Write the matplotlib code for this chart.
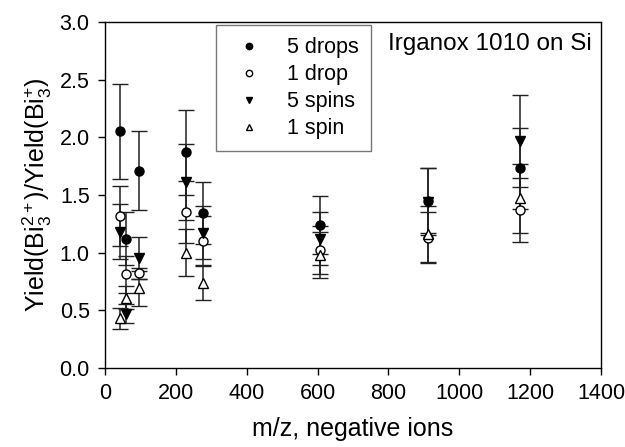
import matplotlib
matplotlib.use("Agg")
import matplotlib.pyplot as plt

plt.rcParams["font.family"] = ["Liberation Sans", "DejaVu Sans"]
plt.rcParams["font.size"] = 15.5
plt.rcParams["mathtext.fontset"] = "custom"
plt.rcParams["mathtext.rm"] = "Liberation Sans"
plt.rcParams["mathtext.it"] = "Liberation Sans:italic"
plt.rcParams["mathtext.default"] = "rm"

# m/z of the negative ions and Bi3++/Bi3+ yield ratios
MZ = [42, 58, 97, 230, 277, 606, 911, 1170]

DROPS5 = [2.05, 1.12, 1.71, 1.87, 1.34, 1.24, 1.45, 1.73]
DROPS5_ERR = [0.41, 0.23, 0.34, 0.37, 0.27, 0.25, 0.28, 0.35]

DROP1 = [1.32, 0.81, 0.82, 1.35, 1.10, 1.02, 1.13, 1.37]
DROP1_ERR = [0.26, 0.16, 0.05, 0.27, 0.22, 0.21, 0.22, 0.28]

SPINS5 = [1.18, 0.47, 0.955, 1.61, 1.17, 1.12, 1.44, 1.97]
SPINS5_ERR = [0.24, 0.08, 0.18, 0.33, 0.23, 0.23, 0.29, 0.40]

SPIN1 = [0.43, 0.61, 0.69, 1.00, 0.74, 0.98, 1.16, 1.47]
SPIN1_ERR = [0.09, 0.10, 0.15, 0.20, 0.15, 0.20, 0.24, 0.30]

SERIES = [
    ("5 drops", DROPS5, DROPS5_ERR, dict(marker="o", mfc="black")),
    ("1 drop", DROP1, DROP1_ERR, dict(marker="o", mfc="white")),
    ("5 spins", SPINS5, SPINS5_ERR, dict(marker="v", mfc="black")),
    ("1 spin", SPIN1, SPIN1_ERR, dict(marker="^", mfc="white")),
]

fig = plt.figure(figsize=(6.25, 4.47), dpi=100)
ax = fig.add_axes([0.168, 0.177, 0.7936, 0.774])

for label, vals, errs, style in SERIES:
    ax.errorbar(MZ, vals, yerr=errs, linestyle="none", color="black",
                mec="black", markersize=6.5, mew=1.0,
                ecolor="#222222", elinewidth=1.1, capsize=5.5, capthick=1.1,
                label=label, **style)

ax.set_xlim(0, 1400)
ax.set_ylim(0, 3.0)
ax.set_xticks(range(0, 1401, 200))
ax.set_yticks([0.0, 0.5, 1.0, 1.5, 2.0, 2.5, 3.0])
ax.yaxis.set_major_formatter(matplotlib.ticker.FormatStrFormatter("%.1f"))
ax.tick_params(direction="out", length=5, width=1, pad=6)
for spine in ax.spines.values():
    spine.set_linewidth(1.0)

ax.set_xlabel("m/z, negative ions", fontsize=18, labelpad=9)
ax.set_ylabel("Yield(Bi$_3^{2+}$)/Yield(Bi$_3^{+}$)", fontsize=18, labelpad=4)

ax.text(0.570, 0.935, "Irganox 1010 on Si", transform=ax.transAxes,
        ha="left", va="center", fontsize=17.5)

handles, labels = ax.get_legend_handles_labels()
handles = [h[0] for h in handles]
leg = ax.legend(handles, labels, loc="upper left", bbox_to_anchor=(0.224, 0.99),
                borderaxespad=0, frameon=True, fancybox=False, markerscale=0.7,
                handlelength=2.0, handletextpad=0.75, labelspacing=0.28,
                borderpad=0.55, fontsize=15.5)
leg.get_frame().set_edgecolor("#555555")
leg.get_frame().set_linewidth(1.0)

fig.savefig("out.png", dpi=100)
